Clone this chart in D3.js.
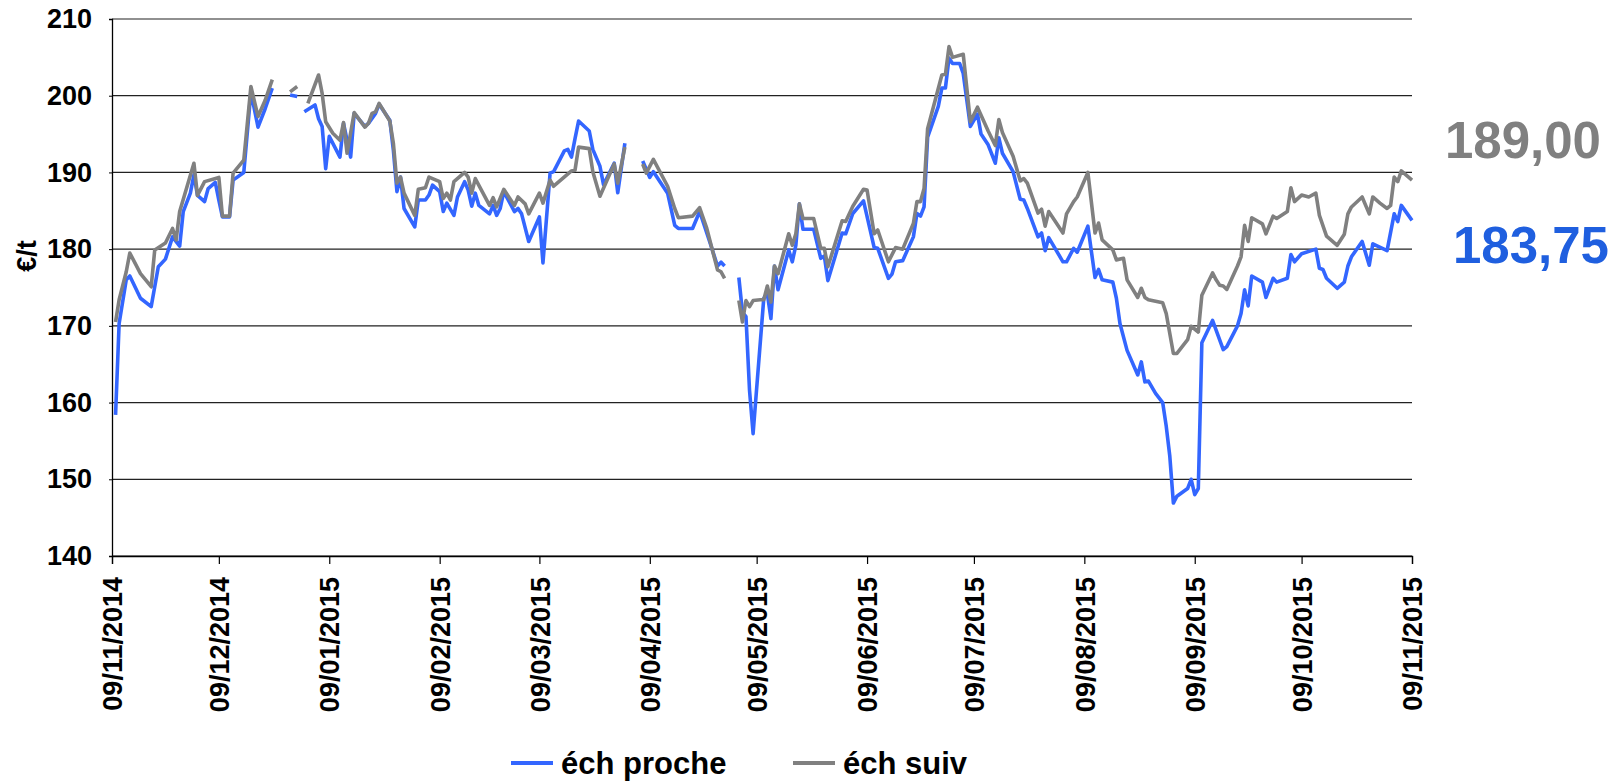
<!DOCTYPE html>
<html>
<head>
<meta charset="utf-8">
<script src="https://cdn.jsdelivr.net/npm/d3@7"></script>
<style>
	body { margin: 0; background: #fff; }
	svg text { font-family: "Liberation Sans", Arial, sans-serif; font-weight: bold; }
</style>
</head>
<body>
<div id="chart"></div>
<script>

///////////////////////////////////////////////////////////////////////////
//////////////////////////////// The data /////////////////////////////////
///////////////////////////////////////////////////////////////////////////

//éch proche - one line per month, null = no quote (gap in the line)
var procheDates = [
	"2014-11-10","2014-11-11","2014-11-13","2014-11-14","2014-11-17","2014-11-20","2014-11-22","2014-11-24","2014-11-26","2014-11-28","2014-11-29",
	"2014-12-01","2014-12-02","2014-12-03","2014-12-05","2014-12-06","2014-12-08","2014-12-09","2014-12-10","2014-12-12","2014-12-13","2014-12-16","2014-12-18","2014-12-20","2014-12-22","2014-12-24","2014-12-25","2014-12-29","2014-12-31",
	"2015-01-01","2015-01-02","2015-01-05","2015-01-06","2015-01-07","2015-01-08","2015-01-09","2015-01-12","2015-01-13","2015-01-15","2015-01-16","2015-01-19","2015-01-20","2015-01-22","2015-01-23","2015-01-26","2015-01-27","2015-01-28","2015-01-29","2015-01-30",
	"2015-02-02","2015-02-03","2015-02-05","2015-02-06","2015-02-07","2015-02-09","2015-02-10","2015-02-11","2015-02-13","2015-02-14","2015-02-16","2015-02-17","2015-02-18","2015-02-19","2015-02-20","2015-02-23","2015-02-24","2015-02-25","2015-02-26","2015-02-27",
	"2015-03-02","2015-03-03","2015-03-04","2015-03-06","2015-03-09","2015-03-10","2015-03-12","2015-03-13","2015-03-16","2015-03-17","2015-03-18","2015-03-19","2015-03-20","2015-03-23","2015-03-24","2015-03-26","2015-03-27","2015-03-30","2015-03-31",
	"2015-04-02","2015-04-03","2015-04-07","2015-04-09","2015-04-10","2015-04-14","2015-04-16","2015-04-17","2015-04-21","2015-04-23","2015-04-26","2015-04-28","2015-04-29","2015-04-30",
	"2015-05-01","2015-05-04","2015-05-05","2015-05-06","2015-05-07","2015-05-08","2015-05-11","2015-05-12","2015-05-13","2015-05-14","2015-05-15","2015-05-18","2015-05-19","2015-05-20","2015-05-21","2015-05-22","2015-05-25","2015-05-27","2015-05-28","2015-05-29",
	"2015-06-02","2015-06-03","2015-06-05","2015-06-08","2015-06-11","2015-06-12","2015-06-15","2015-06-16","2015-06-17","2015-06-19","2015-06-22","2015-06-23","2015-06-24","2015-06-25","2015-06-26","2015-06-29","2015-06-30",
	"2015-07-01","2015-07-02","2015-07-03","2015-07-05","2015-07-06","2015-07-08","2015-07-10","2015-07-11","2015-07-13","2015-07-15","2015-07-16","2015-07-17","2015-07-20","2015-07-22","2015-07-23","2015-07-24","2015-07-27","2015-07-28","2015-07-29","2015-07-30",
	"2015-08-03","2015-08-04","2015-08-06","2015-08-07","2015-08-10","2015-08-12","2015-08-13","2015-08-14","2015-08-17","2015-08-18","2015-08-19","2015-08-21","2015-08-24","2015-08-25","2015-08-26","2015-08-27","2015-08-29","2015-08-31",
	"2015-09-01","2015-09-02","2015-09-03","2015-09-04","2015-09-07","2015-09-08","2015-09-09","2015-09-10","2015-09-11","2015-09-14","2015-09-17","2015-09-18","2015-09-21","2015-09-22","2015-09-23","2015-09-24","2015-09-25","2015-09-28","2015-09-29",
	"2015-10-01","2015-10-02","2015-10-05","2015-10-06","2015-10-07","2015-10-09","2015-10-13","2015-10-14","2015-10-15","2015-10-16","2015-10-19","2015-10-21","2015-10-22","2015-10-23","2015-10-26","2015-10-28","2015-10-29",
	"2015-11-02","2015-11-04","2015-11-05","2015-11-06","2015-11-09"
];
var procheValues = [
	158.4,170.3,176.0,176.5,173.6,172.5,177.7,178.7,181.6,180.4,184.9,
	187.3,189.7,187.0,186.2,187.9,188.7,186.4,184.2,184.2,189.0,190.0,200.5,195.9,198.3,201.0,null,200.1,199.9,
	null,197.9,198.8,197.0,196.0,190.5,194.7,192.0,196.4,192.0,197.7,196.0,196.4,197.7,198.9,196.8,192.9,187.5,189.4,185.3,
	182.9,186.4,186.4,187.05,188.35,187.5,184.9,186.0,184.4,186.8,188.8,187.7,185.6,187.3,185.7,184.6,185.7,184.4,185.3,187.5,
	184.9,185.3,184.6,181.0,184.2,178.2,189.9,190.1,192.8,193.0,192.0,194.4,196.7,195.4,193.0,190.8,188.4,191.2,187.35,
	193.8,null,191.5,189.35,190.1,187.3,183.1,182.7,182.7,184.9,180.7,177.8,178.3,177.8,
	null,176.3,171.8,171.2,161.6,155.95,173.6,174.2,170.95,177.8,174.7,179.9,178.35,180.5,185.9,182.6,182.6,178.8,179.1,175.9,
	182.1,182.0,184.65,186.3,180.2,180.1,176.2,176.75,178.35,178.5,181.6,184.65,184.3,185.5,194.6,198.6,201.0,
	201.0,204.9,204.2,204.2,202.9,196.0,197.6,195.0,193.6,191.2,194.5,192.5,190.1,186.5,186.4,185.3,181.6,182.1,179.8,181.5,
	178.35,178.35,180.1,179.6,183.0,176.3,177.35,176.0,175.7,173.6,170.3,166.8,163.6,165.3,162.7,162.8,161.2,160.0,
	156.9,153.0,146.9,147.8,148.8,150.0,148.0,148.8,167.8,170.7,166.9,167.3,170.0,171.6,174.7,172.6,176.5,175.7,173.7,
	176.2,175.7,176.2,179.3,178.35,179.4,180.0,177.5,177.35,176.2,174.9,175.7,177.8,179.0,181.0,177.9,180.7,
	179.8,184.6,183.6,185.7,183.75
];

//éch suiv
var suivDates = [
	"2014-11-10","2014-11-11","2014-11-13","2014-11-14","2014-11-17","2014-11-20","2014-11-21","2014-11-24","2014-11-26","2014-11-27","2014-11-28",
	"2014-12-02","2014-12-03","2014-12-05","2014-12-09","2014-12-10","2014-12-12","2014-12-13","2014-12-16","2014-12-18","2014-12-20","2014-12-22","2014-12-24","2014-12-25","2014-12-29","2014-12-31",
	"2015-01-01","2015-01-03","2015-01-06","2015-01-07","2015-01-08","2015-01-10","2015-01-12","2015-01-13","2015-01-14","2015-01-16","2015-01-19","2015-01-20","2015-01-21","2015-01-22","2015-01-23","2015-01-26","2015-01-27","2015-01-28","2015-01-29","2015-01-30",
	"2015-02-02","2015-02-03","2015-02-05","2015-02-06","2015-02-09","2015-02-10","2015-02-11","2015-02-12","2015-02-13","2015-02-16","2015-02-17","2015-02-18","2015-02-19","2015-02-23","2015-02-24","2015-02-25","2015-02-27",
	"2015-03-02","2015-03-03","2015-03-05","2015-03-06","2015-03-09","2015-03-10","2015-03-12","2015-03-13","2015-03-18","2015-03-19","2015-03-20","2015-03-23","2015-03-24","2015-03-26","2015-03-30","2015-03-31",
	"2015-04-02","2015-04-03","2015-04-07","2015-04-08","2015-04-10","2015-04-14","2015-04-16","2015-04-17","2015-04-21","2015-04-23","2015-04-25","2015-04-28","2015-04-29","2015-04-30",
	"2015-05-01","2015-05-04","2015-05-05","2015-05-06","2015-05-07","2015-05-08","2015-05-10","2015-05-11","2015-05-12","2015-05-13","2015-05-14","2015-05-15","2015-05-18","2015-05-19","2015-05-20","2015-05-21","2015-05-22","2015-05-25","2015-05-27","2015-05-28","2015-05-29",
	"2015-06-02","2015-06-03","2015-06-05","2015-06-08","2015-06-09","2015-06-11","2015-06-12","2015-06-15","2015-06-17","2015-06-19","2015-06-22","2015-06-23","2015-06-24","2015-06-25","2015-06-26","2015-06-30",
	"2015-07-01","2015-07-02","2015-07-03","2015-07-06","2015-07-08","2015-07-10","2015-07-13","2015-07-15","2015-07-16","2015-07-17","2015-07-20","2015-07-22","2015-07-23","2015-07-24","2015-07-27","2015-07-28","2015-07-29","2015-07-30",
	"2015-08-03","2015-08-04","2015-08-06","2015-08-07","2015-08-10","2015-08-12","2015-08-13","2015-08-14","2015-08-17","2015-08-18","2015-08-20","2015-08-21","2015-08-24","2015-08-25","2015-08-26","2015-08-27","2015-08-31",
	"2015-09-01","2015-09-03","2015-09-04","2015-09-07","2015-09-08","2015-09-10","2015-09-11","2015-09-14","2015-09-15","2015-09-16","2015-09-17","2015-09-18","2015-09-21","2015-09-22","2015-09-23","2015-09-24","2015-09-25","2015-09-28","2015-09-29",
	"2015-10-01","2015-10-02","2015-10-05","2015-10-06","2015-10-07","2015-10-09","2015-10-11","2015-10-13","2015-10-14","2015-10-16","2015-10-19","2015-10-21","2015-10-22","2015-10-23","2015-10-26","2015-10-28","2015-10-29","2015-10-31",
	"2015-11-02","2015-11-03","2015-11-04","2015-11-05","2015-11-06","2015-11-09"
];
var suivValues = [
	170.5,173.4,177.05,179.5,176.8,175.1,179.9,180.8,182.7,181.2,184.9,
	191.2,187.0,188.8,189.35,184.3,184.3,189.9,191.6,201.2,197.3,199.4,202.1,null,200.5,201.2,
	null,199.0,202.7,200.3,196.6,195.1,194.2,196.5,192.5,197.8,195.9,196.4,197.7,197.9,199.0,196.7,193.8,188.6,189.4,187.3,
	184.4,187.8,188.0,189.4,188.8,186.6,187.3,186.4,188.8,190.0,189.4,187.3,189.2,185.7,186.7,185.5,187.8,
	185.7,186.8,185.9,184.6,187.3,186.0,189.0,188.2,190.2,190.3,193.3,193.1,190.1,186.9,191.1,188.6,
	193.3,null,191.1,189.9,191.7,188.2,185.3,184.1,184.3,185.4,182.7,177.3,177.05,176.2,
	null,173.3,170.5,173.3,172.5,173.3,173.4,173.4,175.2,173.1,177.8,176.8,182.0,180.5,182.0,185.9,184.0,184.0,180.1,180.1,177.7,
	183.7,183.6,185.6,187.8,187.7,182.0,182.5,178.35,180.2,180.0,183.35,186.2,186.2,187.9,195.7,202.7,
	202.8,206.4,205.0,205.4,196.6,198.5,195.4,193.5,196.9,195.2,192.1,188.9,189.2,188.6,184.7,185.2,183.0,184.9,
	182.1,184.6,186.2,186.8,190.0,182.1,183.4,181.2,179.9,178.6,178.8,176.0,173.7,174.9,173.7,173.4,173.0,
	171.6,166.4,166.4,168.2,169.95,169.2,174.0,176.9,176.0,175.3,175.2,174.75,177.8,179.0,183.1,181.0,184.1,183.3,182.0,
	184.3,184.0,184.9,188.0,186.2,187.05,186.8,187.3,184.4,181.7,180.5,181.95,184.6,185.5,186.8,184.6,186.8,186.0,
	185.3,185.7,189.4,188.8,190.2,189.0
];

var seriesNames = ["éch proche", "éch suiv"];
var yTicks = [140, 150, 160, 170, 180, 190, 200, 210];
var xTickLabels = ["09/11/2014","09/12/2014","09/01/2015","09/02/2015","09/03/2015","09/04/2015","09/05/2015",
	"09/06/2015","09/07/2015","09/08/2015","09/09/2015","09/10/2015","09/11/2015"];
var yTitle = "€/t";

///////////////////////////////////////////////////////////////////////////
//////////////////////////// Set up the SVG ///////////////////////////////
///////////////////////////////////////////////////////////////////////////

var totalWidth = 1621,
	totalHeight = 784;
var margin = { top: 19, right: 209, bottom: 228, left: 112 };
var width = totalWidth - margin.left - margin.right;
var height = totalHeight - margin.top - margin.bottom;

var colorProche = "#3366ff",
	colorSuiv = "#808080";

var svg = d3.select("#chart")
	.append("svg")
	.attr("width", totalWidth)
	.attr("height", totalHeight)
	.append("g")
	.attr("transform", "translate(" + margin.left + "," + margin.top + ")");

var parseIso = d3.timeParse("%Y-%m-%d"),
	parseFr = d3.timeParse("%d/%m/%Y");

function makeSeries(dates, values) {
	return dates.map(function(d, i) { return { date: parseIso(d), value: values[i] }; });
}
var proche = makeSeries(procheDates, procheValues);
var suiv = makeSeries(suivDates, suivValues);

///////////////////////////////////////////////////////////////////////////
////////////////////////// Create the scales //////////////////////////////
///////////////////////////////////////////////////////////////////////////

var xTickDates = xTickLabels.map(parseFr);

var x = d3.scaleTime()
	.domain([xTickDates[0], xTickDates[xTickDates.length - 1]])
	.range([0, width]);

var y = d3.scaleLinear()
	.domain([yTicks[0], yTicks[yTicks.length - 1]])
	.range([height, 0]);

///////////////////////////////////////////////////////////////////////////
///////////////////////////// Grid and axes ///////////////////////////////
///////////////////////////////////////////////////////////////////////////

svg.append("g").attr("class", "grid")
	.selectAll("line")
	.data(yTicks)
	.enter().append("line")
	.attr("x1", 0)
	.attr("x2", width)
	.attr("y1", function(d) { return y(d); })
	.attr("y2", function(d) { return y(d); })
	.style("stroke", "#222")
	.style("stroke-width", 1.2);

var yAxis = svg.append("g")
	.call(d3.axisLeft(y).tickValues(yTicks).tickSize(3).tickPadding(17).tickFormat(d3.format("d")));
yAxis.select(".domain").style("stroke", "#000").style("stroke-width", 1.3);
yAxis.selectAll(".tick line").style("stroke", "#000");
yAxis.selectAll("text")
	.style("font-size", "27px")
	.style("fill", "#000");

var xAxis = svg.append("g")
	.attr("transform", "translate(0," + height + ")")
	.call(d3.axisBottom(x).tickValues(xTickDates).tickSize(8).tickFormat(d3.timeFormat("%d/%m/%Y")));
xAxis.select(".domain").style("stroke", "#000").style("stroke-width", 1.3);
xAxis.selectAll(".tick line").style("stroke", "#000").style("stroke-width", 1.2);
xAxis.selectAll("text")
	.attr("transform", "rotate(-90)")
	.attr("text-anchor", "end")
	.attr("x", -21)
	.attr("y", 0)
	.attr("dy", "0.36em")
	.style("font-size", "27px")
	.style("fill", "#000");

//y title
svg.append("text")
	.attr("transform", "translate(" + (26 - margin.left) + "," + 237 + ") rotate(-90)")
	.attr("text-anchor", "middle")
	.attr("dy", "0.36em")
	.style("font-size", "27px")
	.text(yTitle);

///////////////////////////////////////////////////////////////////////////
//////////////////////////// Draw the lines ///////////////////////////////
///////////////////////////////////////////////////////////////////////////

var line = d3.line()
	.defined(function(d) { return d.value !== null; })
	.x(function(d) { return x(d.date); })
	.y(function(d) { return y(d.value); });

svg.append("path")
	.datum(proche)
	.attr("d", line)
	.style("fill", "none")
	.style("stroke", colorProche)
	.style("stroke-width", 3.6)
	.style("stroke-linejoin", "round");

svg.append("path")
	.datum(suiv)
	.attr("d", line)
	.style("fill", "none")
	.style("stroke", colorSuiv)
	.style("stroke-width", 3.6)
	.style("stroke-linejoin", "round");

///////////////////////////////////////////////////////////////////////////
///////////////////////// Last values on the right ////////////////////////
///////////////////////////////////////////////////////////////////////////

var frFormat = d3.formatLocale({ decimal: ",", thousands: " ", grouping: [3], currency: ["", " €"] }).format(".2f");

svg.append("text")
	.attr("x", 1445 - margin.left)
	.attr("y", 158 - margin.top)
	.style("font-size", "51px")
	.style("fill", colorSuiv)
	.text(frFormat(suivValues[suivValues.length - 1]));

svg.append("text")
	.attr("x", 1453 - margin.left)
	.attr("y", 263 - margin.top)
	.style("font-size", "51px")
	.style("fill", "#1f5fdf")
	.text(frFormat(procheValues[procheValues.length - 1]));

///////////////////////////////////////////////////////////////////////////
//////////////////////////////// Legend ///////////////////////////////////
///////////////////////////////////////////////////////////////////////////

var legend = svg.append("g")
	.attr("transform", "translate(" + (511 - margin.left) + "," + (763 - margin.top) + ")");

var legendItem = legend.selectAll(".legend-item")
	.data([{ name: seriesNames[0], color: colorProche, x: 0 }, { name: seriesNames[1], color: colorSuiv, x: 282 }])
	.enter().append("g")
	.attr("class", "legend-item")
	.attr("transform", function(d) { return "translate(" + d.x + ",0)"; });

legendItem.append("line")
	.attr("x1", 0)
	.attr("x2", 42)
	.style("stroke", function(d) { return d.color; })
	.style("stroke-width", 4);

legendItem.append("text")
	.attr("x", 50)
	.attr("dy", "0.36em")
	.style("font-size", "31px")
	.text(function(d) { return d.name; });

</script>
</body>
</html>
